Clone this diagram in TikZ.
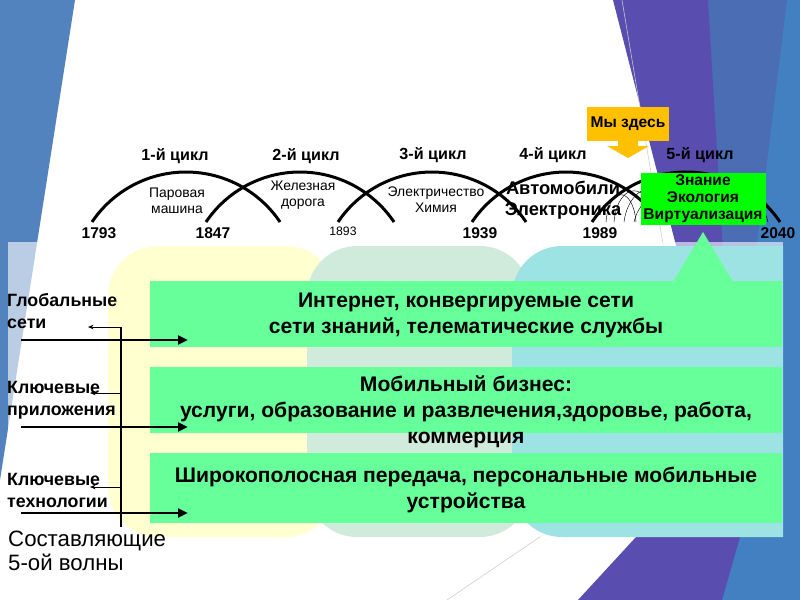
\documentclass[tikz,border=0pt]{standalone}
\usepackage{fontspec}
\setmainfont{Liberation Sans}
\usetikzlibrary{arrows.meta}
\definecolor{bandblue}{HTML}{5383BE}
\definecolor{rblue}{HTML}{4A6DB4}
\definecolor{rblue2}{HTML}{4280C2}
\definecolor{facetpurple}{HTML}{5A4DB0}
\definecolor{yblob}{HTML}{FFFFCF}
\definecolor{gblob}{HTML}{D0EBDC}
\definecolor{cblob}{HTML}{9EE3E3}
\definecolor{bargreen}{HTML}{66FF99}
\definecolor{boxgreen}{HTML}{00FF00}
\definecolor{hereorange}{HTML}{FFC000}

\begin{document}
\begin{tikzpicture}[x=0.9pt,y=-0.9pt,
    yr/.style={font=\fontsize{14}{16}\selectfont\bfseries},
    cyc/.style={font=\fontsize{14.5}{17}\selectfont\bfseries},
    tech/.style={font=\fontsize{12.5}{14.4}\selectfont, align=center},
    side/.style={font=\fontsize{16}{19.8}\selectfont\bfseries, align=left, anchor=west, inner sep=0pt},
    bartxt/.style={font=\fontsize{19}{23.4}\selectfont\bfseries, align=center},
    cycarc/.style={line width=2.7pt},
    fan/.style={line width=0.4pt},
    thickarr/.style={line width=2.5pt, -{Triangle[length=9pt,width=8pt]}},
    thinarr/.style={line width=0.6pt, -{Stealth[length=5pt,width=4pt]}}]
    \useasboundingbox (0,0) rectangle (800,600);
    \fill[white] (0,0) rectangle (800,600);

    \fill[bandblue] (0,0) -- (75,0) -- (0,480) -- cycle;
    \fill[rblue] (700,0) rectangle (800,600);
    \fill[rblue2] (787,0) -- (800,0) -- (800,600) -- (713,600) -- cycle;
    \fill[facetpurple] (613,0) -- (708,0) -- (740,537) -- (722,600) -- (578,600) -- (636,537) -- (690,300) -- cycle;
    \draw[black!20, line width=0.5pt] (622,0) -- (664,250);
    \draw[black!20, line width=0.5pt] (553,528) -- (447,600);

    \fill[white, opacity=0.6] (8,242) rectangle (783,537);
    \fill[yblob, rounded corners=45pt] (108,246) rectangle (336,537);
    \fill[gblob, rounded corners=45pt] (307,246) rectangle (530,537);
    \begin{scope}
        \clip (0,0) rectangle (783,600);
        \fill[cblob, rounded corners=45pt] (512,246) rectangle (850,537);
    \end{scope}

    \foreach \s in {92,206,338,472,592}
        \draw[cycarc] (\s,222) arc[start angle=-146, end angle=-34, radius=113.4];
    \foreach \s/\w/\h in {606/30/28, 614/40/32, 624/62/36, 634/110/38, 644/124/42}
        \draw[fan] (\s,222) .. controls (\s+0.1*\w,222-1.3*\h) and (\s+0.9*\w,222-1.3*\h) .. (\s+\w,222);

    \node[cyc] (c1) at (175,156) {1-й цикл};
    \node[cyc] (c2) at (306,156) {2-й цикл};
    \node[cyc] (c3) at (433,155) {3-й цикл};
    \node[cyc] (c4) at (553,155) {4-й цикл};
    \node[cyc] (c5) at (700,155) {5-й цикл};

    \node[yr] (y1) at (99,233) {1793};
    \node[yr] (y2) at (213,233) {1847};
    \node[font=\fontsize{11}{13}\selectfont] (y3) at (343,231) {1893};
    \node[yr] (y4) at (480,233) {1939};
    \node[yr] (y5) at (600,233) {1989};
    \node[yr] (y6) at (778,233) {2040};

    \node[tech] (steam) at (177,201) {Паровая\\машина};
    \node[tech] (rail) at (303,195) {Железная\\дорога};
    \node[tech] (elec) at (436,200) {Электричество\\Химия};
    \node[font=\fontsize{16.5}{19}\selectfont\bfseries, align=center] (auto) at (563,200) {Автомобили\\Электроника};
    \node[fill=boxgreen, minimum width=112.5pt, minimum height=47pt, inner sep=0pt, align=center,
          font=\fontsize{14}{15.3}\selectfont\bfseries] (know) at (703,199) {Знание\\Экология\\Виртуализация};

    \node[fill=hereorange, minimum width=74pt, minimum height=30pt, inner sep=0pt,
          font=\fontsize{14}{16}\selectfont\bfseries] (here) at (628,124) {Мы здесь};
    \fill[hereorange] (618,139) -- (638,139) -- (638,146) -- (649,146) -- (628,158) -- (607,146) -- (618,146) -- cycle;

    \fill[bargreen] (673,282) -- (703,232) -- (733,282) -- cycle;
    \fill[bargreen] (150,281) rectangle (782,347);
    \fill[bargreen] (150,367) rectangle (782,433);
    \fill[bargreen] (150,453) rectangle (782,523);

    \node[bartxt] (net) at (466,315) {Интернет, конвергируемые сети\\сети знаний, телематические службы};
    \node[bartxt] (mob) at (466,412) {Мобильный бизнес:\\услуги, образование и развлечения,здоровье, работа,\\коммерция};
    \node[bartxt] (band) at (466,490) {Широкополосная передача, персональные мобильные\\устройства};

    \node[side] (glob) at (7,311) {Глобальные\\сети};
    \node[side] (app) at (7,400) {Ключевые\\приложения};
    \node[side] (tec) at (7,490) {Ключевые\\технологии};
    \node[font=\fontsize{20}{21.6}\selectfont, align=left, anchor=west, inner sep=0pt] (wave) at (8,551) {Составляющие\\5-ой волны};

    \coordinate (vtop) at (121,327);
    \coordinate (vbot) at (121,527);
    \coordinate (v2) at (121,393);
    \coordinate (v3) at (121,487);
    \coordinate (g1) at (88,327);
    \coordinate (g2) at (90,393);
    \coordinate (g3) at (90,487);
    \coordinate (a1) at (21,340);
    \coordinate (b1) at (188,340);
    \coordinate (a2) at (21,427);
    \coordinate (b2) at (188,427);
    \coordinate (a3) at (21,513);
    \coordinate (b3) at (188,513);

    \draw[line width=1.8pt] (vtop) -- (vbot);
    \draw[thinarr] (vtop) -- (g1);
    \draw[thinarr] (v2) -- (g2);
    \draw[thinarr] (v3) -- (g3);
    \draw[thickarr] (a1) -- (b1);
    \draw[thickarr] (a2) -- (b2);
    \draw[thickarr] (a3) -- (b3);
\end{tikzpicture}
\end{document}
